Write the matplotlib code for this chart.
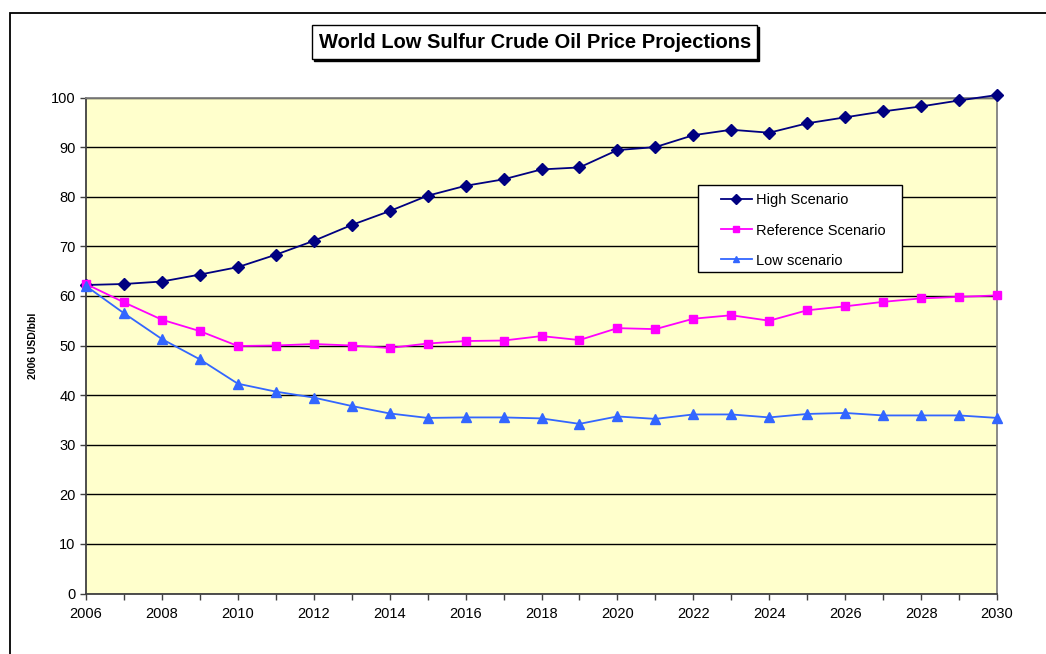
import matplotlib
matplotlib.use("Agg")
import matplotlib.pyplot as plt
from matplotlib.patches import Rectangle

plt.rcParams['font.family'] = ['Liberation Sans', 'DejaVu Sans']

years = list(range(2006, 2031))
high = [62.2, 62.4, 62.9, 64.3, 65.8, 68.3, 71.1, 74.3, 77.1, 80.2, 82.2, 83.5, 85.5,
        85.9, 89.4, 90.0, 92.4, 93.5, 92.9, 94.8, 96.0, 97.2, 98.2, 99.4, 100.5]
reference = [62.4, 58.7, 55.2, 52.9, 49.9, 50.0, 50.3, 50.0, 49.5, 50.4, 50.9, 51.0, 51.9,
             51.1, 53.5, 53.3, 55.4, 56.1, 55.0, 57.1, 57.9, 58.8, 59.5, 59.8, 60.1]
low = [62.0, 56.5, 51.3, 47.2, 42.3, 40.7, 39.5, 37.8, 36.3, 35.4, 35.5, 35.5, 35.3,
       34.2, 35.7, 35.2, 36.1, 36.1, 35.5, 36.2, 36.4, 35.9, 35.9, 35.9, 35.4]
labels = ["High Scenario", "Reference Scenario", "Low scenario"]

W, H = 1046, 654
fig = plt.figure(figsize=(W / 100, H / 100), dpi=100)

# outer chart border (only top and left visible)
fig.patches.append(Rectangle((10 / W, -0.1), 1.2, 1 - 13 / H + 0.1, transform=fig.transFigure,
                             fill=False, edgecolor='black', linewidth=1.3))

ax = fig.add_axes([86 / W, 1 - 593.5 / H, (997 - 86) / W, (593.5 - 97.5) / H])
ax.set_facecolor('#FFFFCC')

ax.plot(years, high, color='#000080', marker='D', markersize=6, linewidth=1.3,
        label=labels[0], clip_on=False, zorder=3)
ax.plot(years, reference, color='#FF00FF', marker='s', markersize=5.5, linewidth=1.3,
        label=labels[1], clip_on=False, zorder=3)
ax.plot(years, low, color='#3366FF', marker='^', markersize=7, linewidth=1.3,
        label=labels[2], clip_on=False, zorder=3)

ax.set_xlim(2006, 2030)
ax.set_ylim(0, 100)
ax.set_xticks(years)
ax.set_xticklabels([str(y) if (y - 2006) % 2 == 0 else '' for y in years])
ax.set_yticks(range(0, 101, 10))
ax.tick_params(axis='both', labelsize=10.5, length=4, width=1, color='#404040', direction='out')
ax.tick_params(axis='x', pad=6)
ax.grid(axis='y', color='black', linewidth=1)
ax.set_axisbelow(True)
for side in ['top', 'right']:
    ax.spines[side].set_color('#808080')
    ax.spines[side].set_linewidth(1.3)
for side in ['left', 'bottom']:
    ax.spines[side].set_color('#404040')
    ax.spines[side].set_linewidth(1.3)
for s in ax.spines.values():
    s.set_zorder(1)

ax.set_ylabel("2006 USD/bbl", fontsize=7.5, fontweight='bold', labelpad=9)

# legend box drawn by hand, legend entries inside it
ax.add_patch(Rectangle((698 / W, 1 - 272 / H), 204 / W, 87 / H, transform=fig.transFigure,
                       facecolor='white', edgecolor='black', linewidth=1, zorder=4, clip_on=False))
leg = ax.legend(loc='upper left', bbox_to_anchor=(721 / W, 1 - 193.5 / H), bbox_transform=fig.transFigure,
                fontsize=10.5, frameon=False, borderaxespad=0, borderpad=0,
                handlelength=2.1, labelspacing=1.1, handletextpad=0.3)
leg.set_zorder(5)
for line in leg.get_lines():
    line.set_markersize(5)

# title with shadowed box
fig.patches.append(Rectangle((314 / W, 1 - 61 / H), 445 / W, 34 / H, transform=fig.transFigure,
                             facecolor='black', edgecolor='black'))
fig.patches.append(Rectangle((312 / W, 1 - 59 / H), 445 / W, 34 / H, transform=fig.transFigure,
                             facecolor='white', edgecolor='black', linewidth=1))
fig.text(535.5 / W, 1 - 43 / H, "World Low Sulfur Crude Oil Price Projections", ha='center', va='center',
         fontsize=14.5, fontweight='bold')

fig.savefig("out.png", dpi=100)
